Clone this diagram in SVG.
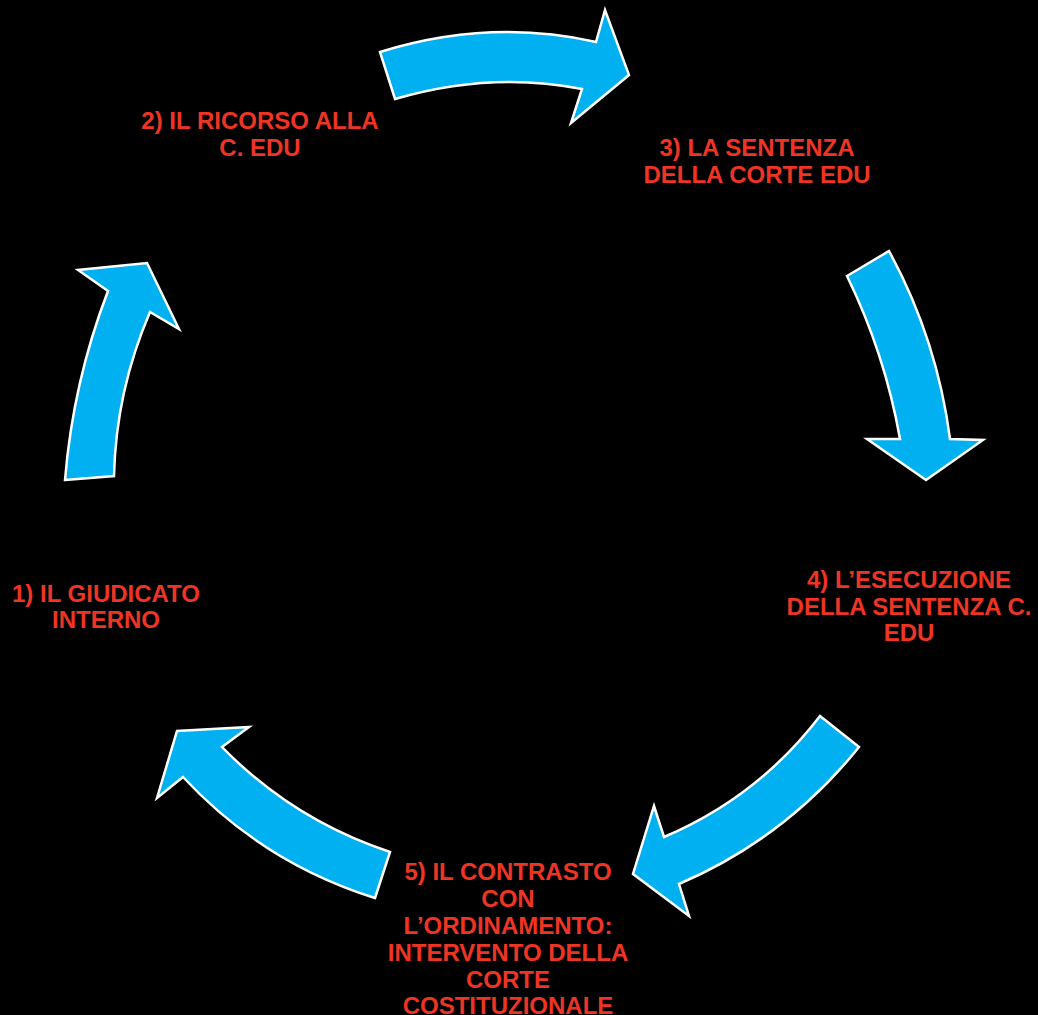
<svg xmlns="http://www.w3.org/2000/svg" width="1038" height="1015" viewBox="0 0 1038 1015">
<style>
.arrow{fill:#00B0F0;stroke:#FFFFFF;stroke-width:2.5;stroke-linejoin:miter}
.lbl{font-family:"Liberation Sans",Arial,sans-serif;font-weight:bold;font-size:24px;fill:#EE3524;text-anchor:middle}
</style>
<rect width="1038" height="1015" fill="#000000"/>
<g id="connectors">
<path id="a1" class="arrow" d="M380,52 Q490,18 596,42 L605,10 L629,75 L571,123 L582,89 Q490,71 395,99 Z"/>
<path id="a2" class="arrow" d="M847,276 L889,251 Q937,339 950,439 L983,440 L926,480 L867,439 L900,439 Q885,354 847,276 Z"/>
<path id="a3" class="arrow" d="M820,716 L859,747 Q786,838 679,884 L689,916 L633,874 L654,806 L664,837 Q758,797 820,716 Z"/>
<path id="a4" class="arrow" d="M375,898 L390,852 Q293,820 222,747 L249,727 L177,731 L157,798 L183,777 Q263,863 375,898 Z"/>
<path id="a5" class="arrow" d="M65,480 L114,476 Q116,391 150,312 L179,329 L147,263 L78,270 L108,291 Q73,382 65,480 Z"/>
</g>
<g id="node1">
<text class="lbl" x="106" y="602">1) IL GIUDICATO</text>
<text class="lbl" x="106" y="628">INTERNO</text>
</g>
<g id="node2">
<text class="lbl" x="260" y="129">2) IL RICORSO ALLA</text>
<text class="lbl" x="260" y="156">C. EDU</text>
</g>
<g id="node3">
<text class="lbl" x="757" y="156">3) LA SENTENZA</text>
<text class="lbl" x="757" y="183">DELLA CORTE EDU</text>
</g>
<g id="node4">
<text class="lbl" x="909" y="588">4) L’ESECUZIONE</text>
<text class="lbl" x="909" y="615">DELLA SENTENZA C.</text>
<text class="lbl" x="909" y="641">EDU</text>
</g>
<g id="node5">
<text class="lbl" x="508" y="880">5) IL CONTRASTO</text>
<text class="lbl" x="508" y="907">CON</text>
<text class="lbl" x="508" y="934">L’ORDINAMENTO:</text>
<text class="lbl" x="508" y="961">INTERVENTO DELLA</text>
<text class="lbl" x="508" y="988">CORTE</text>
<text class="lbl" x="508" y="1014">COSTITUZIONALE</text>
</g>
</svg>
